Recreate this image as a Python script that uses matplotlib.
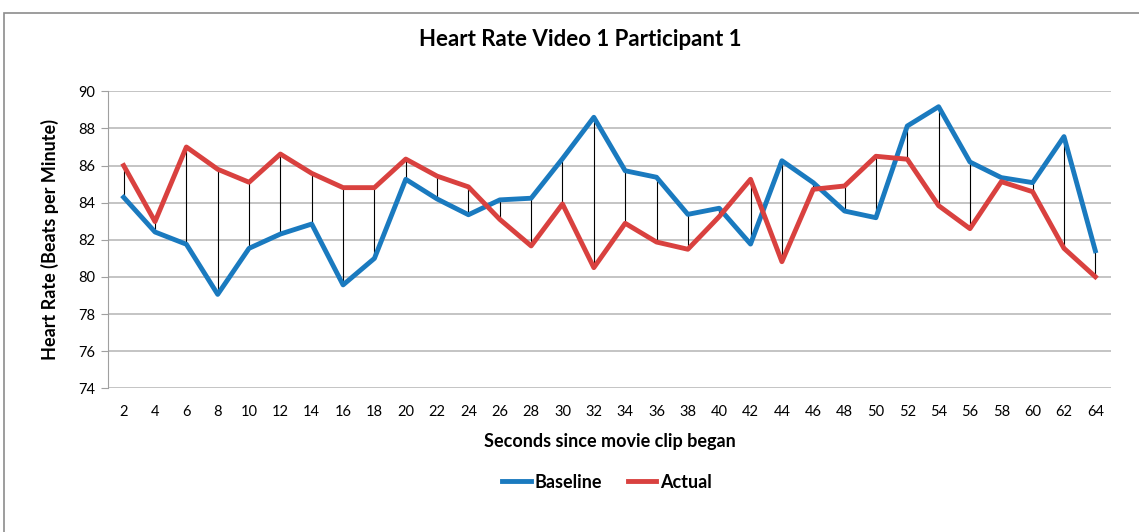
import matplotlib
matplotlib.use('Agg')
import matplotlib.pyplot as plt
from matplotlib.patches import Rectangle

plt.rcParams['font.family'] = ['Lato', 'DejaVu Sans']

# Data
seconds = [2, 4, 6, 8, 10, 12, 14, 16, 18, 20, 22, 24, 26, 28, 30, 32,
           34, 36, 38, 40, 42, 44, 46, 48, 50, 52, 54, 56, 58, 60, 62, 64]
baseline = [84.29, 82.42, 81.76, 79.06, 81.54, 82.31, 82.85, 79.57, 81.0, 85.26, 84.2, 83.35,
            84.15, 84.24, 86.37, 88.6, 85.72, 85.37, 83.37, 83.7, 81.77, 86.26, 85.08, 83.55,
            83.19, 88.13, 89.17, 86.19, 85.35, 85.08, 87.56, 81.41]
actual = [86.0, 82.98, 87.0, 85.8, 85.1, 86.62, 85.58, 84.81, 84.81, 86.35, 85.43, 84.85,
          83.1, 81.67, 83.93, 80.5, 82.89, 81.88, 81.49, 83.25, 85.26, 80.82, 84.72, 84.9,
          86.5, 86.34, 83.84, 82.6, 85.13, 84.59, 81.54, 80.01]

blue = '#1a7abf'
red = '#d9413f'

fig = plt.figure(figsize=(11.39, 5.32), dpi=100)
# outer chart frame
fig.patches.append(Rectangle((4 / 1139, -0.1), 1.2, 1 - 13 / 532 + 0.1, transform=fig.transFigure,
                             fill=False, edgecolor='#8c8c8c', linewidth=1.2))

ax = fig.add_axes([108 / 1139, 143.7 / 532, 1003 / 1139, 297 / 532])

# high-low lines
ax.vlines(seconds, [min(b, a) for b, a in zip(baseline, actual)],
          [max(b, a) for b, a in zip(baseline, actual)], color='black', linewidth=0.8, zorder=2)
ax.plot(seconds, baseline, color=blue, linewidth=3.5, label='Baseline', zorder=3,
        solid_joinstyle='round')
ax.plot(seconds, actual, color=red, linewidth=3.5, label='Actual', zorder=3,
        solid_joinstyle='round')

ax.set_xlim(1, 65)
ax.set_ylim(74, 90)
ax.set_yticks(range(74, 91, 2))
ax.set_xticks(seconds)
ax.set_xticklabels([str(s) for s in seconds], fontsize=10.5)
ax.tick_params(axis='y', labelsize=10.5, length=5, color='#a0a0a0', pad=4)
ax.tick_params(axis='x', length=0, pad=12)
ax.grid(axis='y', color='#b4b4b4', linewidth=1.1)
ax.set_axisbelow(True)
for side in ['top', 'right', 'bottom']:
    ax.spines[side].set_visible(False)
ax.spines['left'].set_color('#a0a0a0')

fig.text(580 / 1139, 1 - 40 / 532, 'Heart Rate Video 1 Participant 1', fontsize=16,
         fontweight='bold', ha='center', va='center')
ax.set_xlabel('Seconds since movie clip began', fontsize=13, fontweight='bold', labelpad=10)
ax.set_ylabel('Heart Rate (Beats per Minute)', fontsize=13, fontweight='bold', labelpad=14)

fig.legend(loc='center', bbox_to_anchor=(607 / 1139, 1 - 482 / 532), ncol=2, frameon=False,
           prop={'size': 13, 'weight': 'bold'}, handlelength=1.6, handletextpad=0.2,
           columnspacing=1.4)

fig.savefig('out.png', dpi=100)
